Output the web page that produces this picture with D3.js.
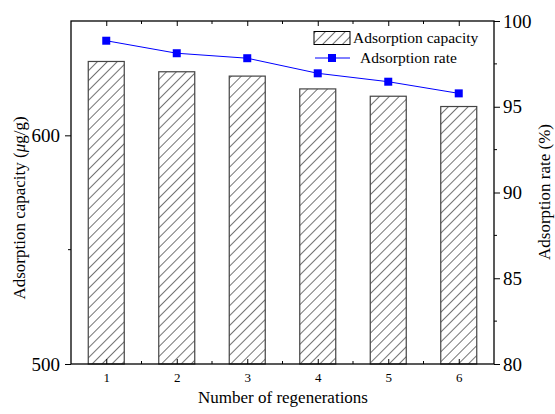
<!DOCTYPE html>
<html><head><meta charset="utf-8">
<script src="https://cdn.jsdelivr.net/npm/d3@7/dist/d3.min.js"></script>
<style>body{margin:0;background:#fff}svg{display:block;font-family:"Liberation Serif","Times New Roman",serif}svg text{font-family:"Liberation Serif","Times New Roman",serif}</style>
</head><body><svg id="c" width="555" height="414"></svg>
<script>
const categories = [1, 2, 3, 4, 5, 6];
const capacity = [632.3, 627.8, 625.9, 620.3, 617.1, 612.6];
const rate = [98.85, 98.12, 97.83, 96.95, 96.46, 95.78];
const leftTicks = [500, 600];
const rightTicks = [80, 85, 90, 95, 100];

const svg = d3.select("#c");
const L = 71, R = 494, T = 21, B = 364;
const x = d3.scaleLinear().domain([0.5, 6.5]).range([L, R]);
const yL = d3.scaleLinear().domain([500, 650]).range([B, T]);
const yR = d3.scaleLinear().domain([80, 100]).range([B, T]);

const defs = svg.append("defs");
const pat = defs.append("pattern").attr("id", "hatch").attr("patternUnits", "userSpaceOnUse")
  .attr("width", 7).attr("height", 7).attr("patternTransform", "rotate(45)");
pat.append("rect").attr("width", 7).attr("height", 7).attr("fill", "#fff");
pat.append("line").attr("x1", 0).attr("y1", 0).attr("x2", 0).attr("y2", 7)
  .attr("stroke", "#000").attr("stroke-width", 1.1);

// bars
const bw = 36;
svg.append("g").selectAll("rect").data(categories).join("rect")
  .attr("x", (d) => x(d) - bw / 2).attr("width", bw)
  .attr("y", (d, i) => yL(capacity[i])).attr("height", (d, i) => B - yL(capacity[i]))
  .attr("fill", "url(#hatch)").attr("stroke", "#444").attr("stroke-width", 1.2);

// frame
svg.append("rect").attr("x", L).attr("y", T).attr("width", R - L).attr("height", B - T)
  .attr("fill", "none").attr("stroke", "#000").attr("stroke-width", 1.3);

// bottom axis (ticks inside)
const gb = svg.append("g").attr("transform", `translate(0,${B})`)
  .call(d3.axisBottom(x).tickValues(categories).tickSize(-5).tickPadding(9).tickFormat(d3.format("d")));
gb.select(".domain").remove();
gb.selectAll("text").attr("font-size", 13);
gb.append("g").selectAll("line").data([1.5, 2.5, 3.5, 4.5, 5.5]).join("line")
  .attr("x1", (d) => x(d)).attr("x2", (d) => x(d)).attr("y1", 0).attr("y2", -3).attr("stroke", "#000");
// top axis (ticks inside)
const gt = svg.append("g").attr("transform", `translate(0,${T})`)
  .call(d3.axisTop(x).tickValues(categories).tickSize(-5).tickFormat(""));
gt.select(".domain").remove();
gt.append("g").selectAll("line").data([1.5, 2.5, 3.5, 4.5, 5.5]).join("line")
  .attr("x1", (d) => x(d)).attr("x2", (d) => x(d)).attr("y1", 0).attr("y2", 3).attr("stroke", "#000");

// left axis
const gl = svg.append("g").attr("transform", `translate(${L},0)`)
  .call(d3.axisLeft(yL).tickValues(leftTicks).tickSize(6).tickPadding(5).tickFormat(d3.format("d")));
gl.select(".domain").remove();
gl.selectAll("text").attr("font-size", 19);
gl.append("line").attr("x1", 0).attr("x2", -3).attr("y1", yL(550)).attr("y2", yL(550)).attr("stroke", "#000");

// right axis
const gr = svg.append("g").attr("transform", `translate(${R},0)`)
  .call(d3.axisRight(yR).tickValues(rightTicks).tickSize(6).tickPadding(3).tickFormat(d3.format("d")));
gr.select(".domain").remove();
gr.selectAll("text").attr("font-size", 19);
gr.append("g").selectAll("line").data([82.5, 87.5, 92.5, 97.5]).join("line")
  .attr("x1", 0).attr("x2", 3).attr("y1", (d) => yR(d)).attr("y2", (d) => yR(d)).attr("stroke", "#000");

// rate line
const line = d3.line().x((d, i) => x(categories[i])).y((d) => yR(d));
svg.append("path").datum(rate).attr("d", line).attr("fill", "none").attr("stroke", "#0000ff").attr("stroke-width", 1);
svg.append("g").selectAll("rect").data(rate).join("rect")
  .attr("x", (d, i) => x(categories[i]) - 4).attr("y", (d) => yR(d) - 4)
  .attr("width", 8).attr("height", 8).attr("fill", "#0000ff");

// legend
const lg = svg.append("g");
lg.append("rect").attr("x", 314).attr("y", 31.5).attr("width", 36).attr("height", 13)
  .attr("fill", "url(#hatch)").attr("stroke", "#000").attr("stroke-width", 1);
lg.append("text").attr("x", 353).attr("y", 43).attr("font-size", 15.5).text("Adsorption capacity");
lg.append("line").attr("x1", 315).attr("x2", 350).attr("y1", 58).attr("y2", 58).attr("stroke", "#0000ff");
lg.append("rect").attr("x", 328).attr("y", 54).attr("width", 8).attr("height", 8).attr("fill", "#0000ff");
lg.append("text").attr("x", 360).attr("y", 63).attr("font-size", 15.5).text("Adsorption rate");

// axis titles
svg.append("text").attr("x", 283).attr("y", 403).attr("text-anchor", "middle").attr("font-size", 17)
  .text("Number of regenerations");
const ylab = svg.append("text").attr("transform", "translate(25,208) rotate(-90)")
  .attr("text-anchor", "middle").attr("font-size", 17);
ylab.append("tspan").text("Adsorption capacity (");
ylab.append("tspan").attr("font-style", "italic").text("μ");
ylab.append("tspan").text("g/g)");
svg.append("text").attr("transform", "translate(550,192) rotate(-90)")
  .attr("text-anchor", "middle").attr("font-size", 17).text("Adsorption rate (%)");
</script></body></html>
